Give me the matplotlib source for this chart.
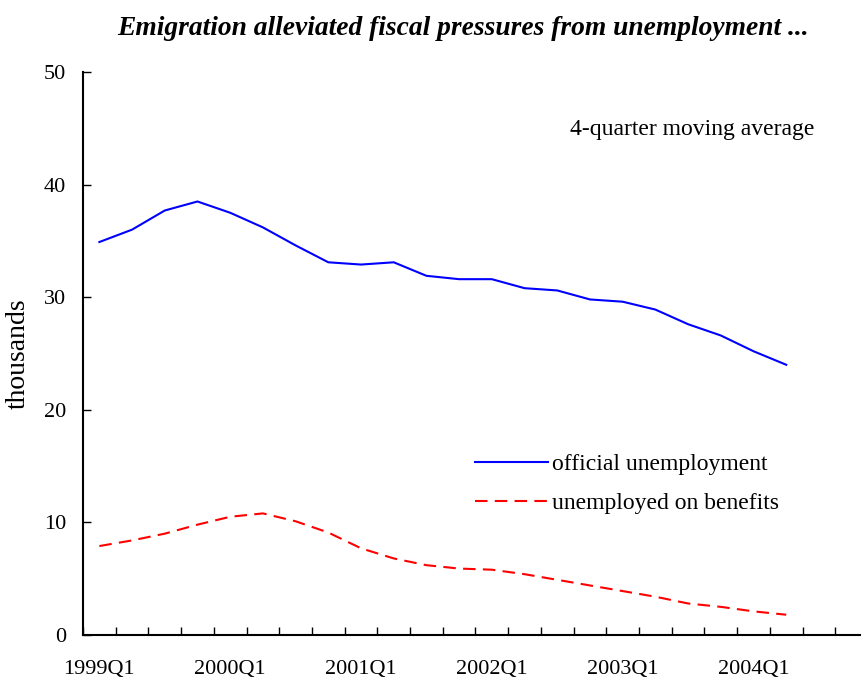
import numpy as np
import matplotlib
matplotlib.use("Agg")
import matplotlib.pyplot as plt

# quarterly data, 4-quarter moving average (thousands)
quarters = ["1999Q1", "1999Q2", "1999Q3", "1999Q4",
            "2000Q1", "2000Q2", "2000Q3", "2000Q4",
            "2001Q1", "2001Q2", "2001Q3", "2001Q4",
            "2002Q1", "2002Q2", "2002Q3", "2002Q4",
            "2003Q1", "2003Q2", "2003Q3", "2003Q4",
            "2004Q1", "2004Q2"]
official = [34.9, 36.0, 37.7, 38.5, 37.5, 36.2, 34.6, 33.1, 32.9, 33.1, 31.9,
            31.6, 31.6, 30.8, 30.6, 29.8, 29.6, 28.9, 27.6, 26.6, 25.2, 24.0]
on_benefits = [7.9, 8.4, 9.0, 9.8, 10.5, 10.8, 10.1, 9.1, 7.7, 6.8, 6.2,
               5.9, 5.8, 5.4, 4.9, 4.4, 3.9, 3.4, 2.8, 2.5, 2.1, 1.8]
tick_labels = ["1999Q1", "2000Q1", "2001Q1", "2002Q1", "2003Q1", "2004Q1"]
n_slots = 24  # axis runs through 2004Q4

plt.rcParams["font.family"] = ["Liberation Serif", "DejaVu Serif"]

fig = plt.figure(figsize=(8.62, 6.87), dpi=100)
ax = fig.add_axes([83 / 862, 52 / 687, 785 / 862, 563 / 687])

x = np.arange(len(quarters))
ax.plot(x, official, color="#0000ff", lw=1.5, label="official unemployment")
ax.plot(x, on_benefits, color="#ff0000", lw=1.5, dashes=(6, 3.5),
        label="unemployed on benefits")

ax.set_xlim(-0.5, n_slots - 0.5)
ax.set_ylim(0, 50)
ax.set_yticks([0, 10, 20, 30, 40, 50])

ax.set_xticks([quarters.index(t) for t in tick_labels])
ax.set_xticklabels(tick_labels)
ax.set_xticks(np.arange(-0.5, n_slots), minor=True)
ax.tick_params(axis="x", which="major", length=0, pad=18, labelsize=16)
ax.tick_params(axis="x", which="minor", direction="in", length=6, width=1)
ax.tick_params(axis="y", direction="in", length=6, width=1, pad=12, labelsize=16)

for side in ["top", "right"]:
    ax.spines[side].set_visible(False)
for side in ["left", "bottom"]:
    ax.spines[side].set_linewidth(1.5)

ax.set_ylabel("thousands", fontsize=20)
ax.yaxis.set_label_coords(-0.066, 0.5)

ax.text(0.62, 0.897, "4-quarter moving average", transform=ax.transAxes,
        fontsize=17, va="center", ha="left")

ax.legend(loc="upper left", bbox_to_anchor=(0.499, 0.322), frameon=False,
          fontsize=17, handlelength=3.1, handletextpad=0.17, labelspacing=0.75,
          borderpad=0, borderaxespad=0)

fig.text(0.5366, 0.958, "Emigration alleviated fiscal pressures from unemployment ...",
         fontsize=19.8, fontweight="bold", fontstyle="italic", ha="center", va="center")

fig.savefig("out.png", dpi=100)
